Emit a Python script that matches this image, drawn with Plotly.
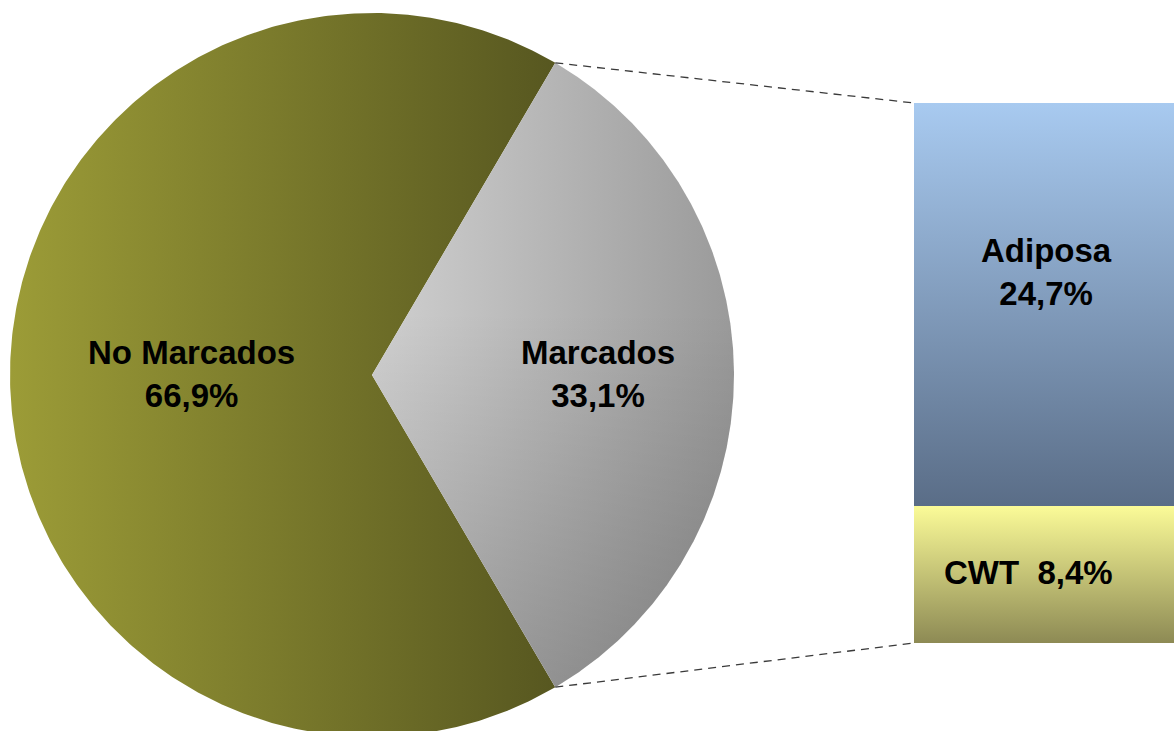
import numpy as np
import plotly.graph_objects as go

# Main split of the catch
categories = ["No Marcados", "Marcados"]
shares = [66.9, 33.1]
share_labels = ["66,9%", "33,1%"]

# Breakdown of the marked fish
mark_types = ["Adiposa", "CWT"]
mark_shares = [24.7, 8.4]
mark_labels = ["24,7%", "8,4%"]

# Drawing geometry (plot units = pixels)
CX, CY, R = 372.0, 375.0, 362.0
BAR_X0, BAR_X1 = 914.0, 1180.0
BAR_TOP = 103.0
BAR_HEIGHT = 540.0

fig = go.Figure()

# Pie: the marked slice is centred on the right-hand side (angle 0, y grows downward)
total = sum(shares)
half = shares[1] / total * np.pi
slice_ranges = {
    "Marcados": (-half, half),
    "No Marcados": (half, 2 * np.pi - half),
}


def wedge(a0, a1, n=400):
    t = np.linspace(a0, a1, n)
    xs = np.concatenate([[CX], CX + R * np.cos(t), [CX]])
    ys = np.concatenate([[CY], CY + R * np.sin(t), [CY]])
    return xs, ys


a0, a1 = slice_ranges["No Marcados"]
xs, ys = wedge(a0, a1)
fig.add_trace(go.Scatter(
    x=xs, y=ys, mode="lines", fill="toself", line=dict(width=0),
    fillgradient=dict(type="horizontal",
                      colorscale=[[0, "#9c9c37"], [1, "#575720"]]),
    hoverinfo="skip", showlegend=False,
))

a0, a1 = slice_ranges["Marcados"]
xs, ys = wedge(a0, a1)
fig.add_trace(go.Scatter(
    x=xs, y=ys, mode="lines", fill="toself", line=dict(width=0),
    fillgradient=dict(type="horizontal",
                      colorscale=[[0, "#d0d0d0"], [1, "#9a9a9a"]]),
    hoverinfo="skip", showlegend=False,
))
# darker shading toward the lower part of the marked slice
fig.add_trace(go.Scatter(
    x=xs, y=ys, mode="lines", fill="toself", line=dict(width=0),
    fillgradient=dict(type="vertical",
                      start=float(ys.min()), stop=float(ys.max()),
                      colorscale=[[0, "rgba(0,0,0,0)"], [0.4, "rgba(0,0,0,0)"],
                                  [1, "rgba(0,0,0,0.2)"]]),
    hoverinfo="skip", showlegend=False,
))

# Stacked column for the marked breakdown
scale = BAR_HEIGHT / sum(mark_shares)
bar_colors = [("#a8caf0", "#5a6d87"), ("#fbfb98", "#8d8a54")]
y_cursor = BAR_TOP
segment_mid = []
for share, (c_top, c_bot) in zip(mark_shares, bar_colors):
    y0, y1 = y_cursor, y_cursor + share * scale
    fig.add_trace(go.Scatter(
        x=[BAR_X0, BAR_X1, BAR_X1, BAR_X0, BAR_X0],
        y=[y0, y0, y1, y1, y0],
        mode="lines", fill="toself", line=dict(width=0),
        fillgradient=dict(type="vertical", start=y0, stop=y1,
                          colorscale=[[0, c_top], [1, c_bot]]),
        hoverinfo="skip", showlegend=False,
    ))
    segment_mid.append((y0 + y1) / 2)
    y_cursor = y1
bar_bottom = y_cursor

# Dashed connectors from the slice edges to the column corners
for ang, ybar in [(-half, BAR_TOP), (half, bar_bottom)]:
    fig.add_trace(go.Scatter(
        x=[CX + R * np.cos(ang), BAR_X0],
        y=[CY + R * np.sin(ang), ybar],
        mode="lines", line=dict(color="#3a3a3a", width=1.3, dash="8px,6px"),
        hoverinfo="skip", showlegend=False,
    ))

font = dict(family="Liberation Sans, Arial, sans-serif", size=33, color="#000000")

# Slice labels
label_r = 0.5 * R
for name, pct in zip(categories, share_labels):
    a0, a1 = slice_ranges[name]
    mid = (a0 + a1) / 2
    fig.add_annotation(
        x=CX + label_r * np.cos(mid) + (45 if name == "Marcados" else 0),
        y=CY + label_r * np.sin(mid) - 1,
        text=f"<b>{name}<br>{pct}</b>", showarrow=False, font=font,
        xanchor="center", yanchor="middle",
    )

# Column labels
fig.add_annotation(
    x=1046, y=segment_mid[0] - 32,
    text=f"<b>{mark_types[0]}<br>{mark_labels[0]}</b>", showarrow=False, font=font,
    xanchor="center", yanchor="middle",
)
fig.add_annotation(
    x=1028, y=segment_mid[1] - 2,
    text=f"<b>{mark_types[1]}\u00a0 {mark_labels[1]}</b>", showarrow=False, font=font,
    xanchor="center", yanchor="middle",
)

fig.update_xaxes(range=[0, 1174], visible=False, fixedrange=True)
fig.update_yaxes(range=[731, 0], visible=False, fixedrange=True)
fig.update_layout(
    width=1174, height=731, autosize=False,
    margin=dict(l=0, r=0, t=0, b=0),
    paper_bgcolor="white", plot_bgcolor="white",
    showlegend=False,
)

fig.write_html("out.html")
